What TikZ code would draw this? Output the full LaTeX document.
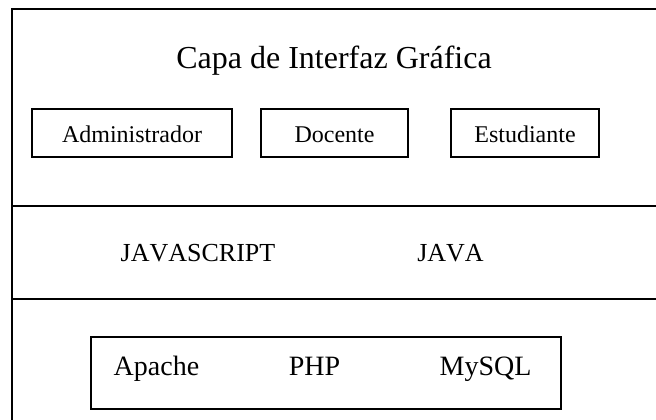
\documentclass[tikz,border=0pt]{standalone}
\usepackage{fontspec}
\setmainfont[Kerning=Off]{Liberation Serif}
\begin{document}
\begin{tikzpicture}[x=0.75pt,y=-0.75pt,
  frame/.style={line width=1.5pt},
  rolebox/.style={draw,line width=1pt,minimum height=48*0.75pt,inner sep=0pt,text height=15pt,text depth=0pt,font=\fontsize{18}{20}\selectfont},
  label/.style={anchor=base,inner sep=0pt},
]
\useasboundingbox (0,0) rectangle (656,420);
\clip (0,0) rectangle (656,420);
% outer frame (cut at right and bottom)
\coordinate (tl) at (12,9);
\coordinate (tr) at (700,9);
\coordinate (bl) at (12,470);
\draw[frame] (tr) -- (tl) -- (bl);
\coordinate (d1l) at (12,206);
\coordinate (d1r) at (700,206);
\coordinate (d2l) at (12,299);
\coordinate (d2r) at (700,299);
\draw[frame] (d1l) -- (d1r);
\draw[frame] (d2l) -- (d2r);
% title
\node[label,font=\fontsize{24}{28}\selectfont] (title) at (334,69) {Capa de Interfaz Gráfica};
% role boxes
\node[rolebox,minimum width=200*0.75pt] (admin) at (132,133) {Administrador};
\node[rolebox,minimum width=147*0.75pt] (doc) at (334.5,133) {Docente};
\node[rolebox,minimum width=148*0.75pt] (est) at (525,133) {Estudiante};
% middle layer
\node[label,font=\fontsize{19.5}{22}\selectfont] (js) at (198,262) {JAVASCRIPT};
\node[label,font=\fontsize{19.5}{22}\selectfont] (java) at (450.5,262) {JAVA};
% bottom layer
\node[draw,line width=1pt,minimum width=470*0.75pt,minimum height=72*0.75pt,inner sep=0pt] (srv) at (326,373) {};
\node[label,font=\fontsize{21}{24}\selectfont] (apache) at (156.5,375) {Apache};
\node[label,font=\fontsize{21}{24}\selectfont] (php) at (314.5,375) {PHP};
\node[label,font=\fontsize{21}{24}\selectfont] (mysql) at (485.5,375) {MySQL};
\end{tikzpicture}
\end{document}
